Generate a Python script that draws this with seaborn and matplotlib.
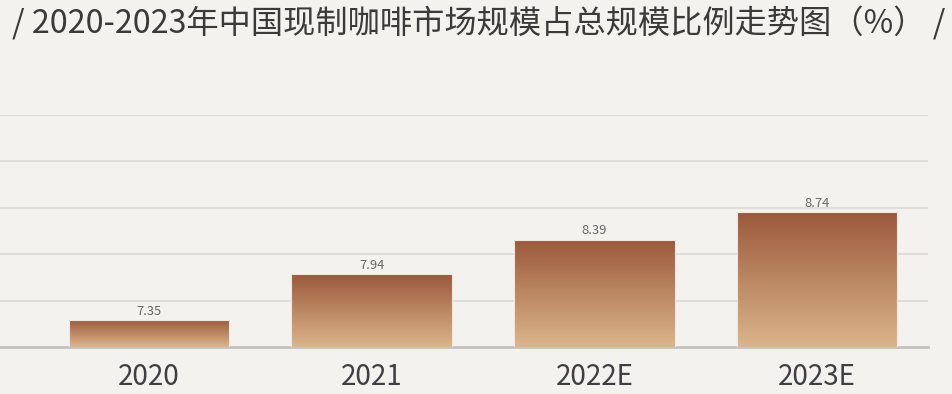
import numpy as np
import pandas as pd
import matplotlib
matplotlib.use("Agg")
import matplotlib.pyplot as plt
import seaborn as sns
from matplotlib.colors import LinearSegmentedColormap

categories = ["2020", "2021", "2022E", "2023E"]
values = [7.35, 7.94, 8.39, 8.74]
value_labels = ["7.35", "7.94", "8.39", "8.74"]
title = "/ 2020-2023年中国现制咖啡市场规模占总规模比例走势图（%） /"

sns.set_theme(style="white")
plt.rcParams['font.family'] = ['Noto Sans CJK SC', 'DejaVu Sans']

bg = "#f4f2ef"
fig = plt.figure(figsize=(9.52, 3.94), dpi=100, facecolor=bg)
ax = fig.add_axes([0.0, 47/394, 928/952, (347-115)/394])
ax.set_facecolor(bg)

df = pd.DataFrame({"cat": categories, "val": values})
sns.barplot(data=df, x="cat", y="val", ax=ax, width=0.72, color="#b07a58",
            edgecolor="#efe6dc", linewidth=0.8, zorder=3)

ax.set_ylim(7.0, 10.0)
ax.set_xlim(-0.668, 3.498)
ax.set_yticks([7.6, 8.2, 8.8, 9.4, 10.0])
ax.yaxis.grid(True, color="#dddbd8", linewidth=1.3, zorder=0)
ax.set_axisbelow(True)
for s in ["top", "right", "left"]:
    ax.spines[s].set_visible(False)
ax.spines["bottom"].set_color("#c4c2bf")
ax.spines["bottom"].set_linewidth(2)
ax.tick_params(axis="y", left=False, labelleft=False)
ax.tick_params(axis="x", bottom=False, labelsize=20, labelcolor="#3d3f44", pad=5)
ax.set_xlabel("")
ax.set_ylabel("")

cmap = LinearSegmentedColormap.from_list("g", ["#dbb58b", "#9b593b"])
grad = np.linspace(0, 1, 256).reshape(-1, 1)
for p, lab in zip(ax.patches, value_labels):
    x0, y0 = p.get_x(), p.get_y()
    w, h = p.get_width(), p.get_height()
    ybot = max(y0, ax.get_ylim()[0])
    im = ax.imshow(grad, cmap=cmap, origin="lower", aspect="auto",
                   extent=[x0, x0 + w, ybot, y0 + h], zorder=3.5)
    im.set_clip_path(p)
    p.set_facecolor("none")
    p.set_zorder(4)
    ax.text(x0 + w / 2, y0 + h + 0.03, lab, ha="center", va="bottom",
            fontsize=9.3, color="#666666", zorder=5)

ax.set_xlim(-0.668, 3.498)
ax.set_ylim(7.0, 10.0)

fig.text(0.5026, 1 - 23/394, title, ha="center", va="center", fontsize=23.2,
         color="#3a3a3a")

fig.savefig("out.png", dpi=100, facecolor=bg)
